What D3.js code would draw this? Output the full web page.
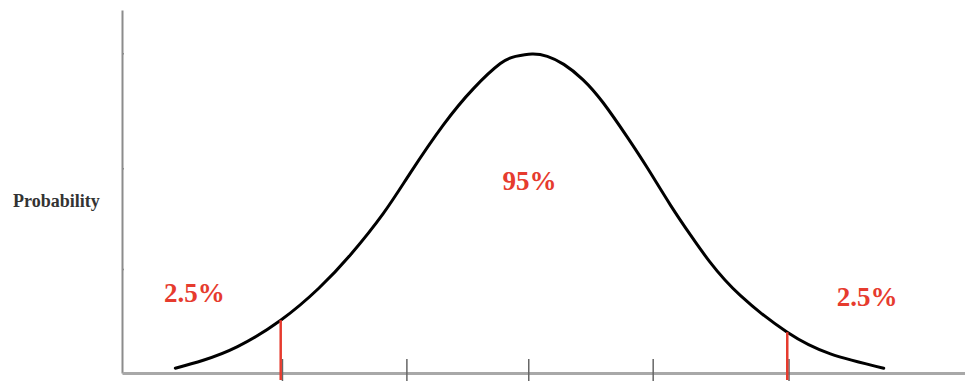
<!DOCTYPE html>
<html lang="en">
<head>
    <meta charset="UTF-8">
    <title>Normal distribution - 95% interval</title>
    <script src="https://d3js.org/d3.v7.min.js"></script>
    <style>
        body { margin: 0; background: #fff; }
    </style>
</head>
<body>
    <svg width="965" height="383"></svg>
    <script type="text/javascript">
        // Curve: z (std units) and density
        var curveZ = [-2.78, -2.56, -2.29, -1.95, -1.65, -1.40, -1.14, -0.93, -0.67, -0.43, -0.22, -0.10, 0.03, 0.15,
                      0.28, 0.43, 0.59, 0.78, 0.94, 1.12, 1.28, 1.43, 1.67, 2.04, 2.38, 2.80];
        var curveDensity = [0.006, 0.016, 0.033, 0.066, 0.106, 0.148, 0.200, 0.250, 0.310, 0.356, 0.387, 0.396, 0.399, 0.396,
                            0.386, 0.367, 0.338, 0.295, 0.256, 0.210, 0.172, 0.139, 0.097, 0.051, 0.024, 0.006];

        // Critical values (red markers) and their curve heights
        var criticalZ = [-1.95, 2.04];
        var criticalDensity = [0.066, 0.051];

        // Tick positions
        var xTicks = [-1.94, -0.96, 0, 0.98, 2.05];
        var yTicks = [0.130, 0.256, 0.400];

        // Area labels
        var labelText = ["2.5%", "95%", "2.5%"];
        var labelZ = [-2.63, 0.01, 2.67];
        var labelDensity = [0.089, 0.229, 0.084];

        var red = "#e63b2e";

        var svg = d3.select("svg");

        var x = d3.scaleLinear().domain([-3.2, 3.44]).range([122, 965]);
        var y = d3.scaleLinear().domain([0, 0.454]).range([373, 10]);

        var curveData = curveZ.map(function(z, i) { return {z: z, d: curveDensity[i]}; });

        // y axis
        var yAxis = svg.append("g")
            .attr("transform", "translate(" + x(-3.2) + ",0)")
            .call(d3.axisLeft(y).tickValues(yTicks).tickSizeInner(3).tickSizeOuter(0).tickFormat(""));
        yAxis.select(".domain").attr("stroke", "#8c8c8c").attr("stroke-width", 2);
        yAxis.selectAll(".tick line").attr("stroke", "#8c8c8c").attr("stroke-width", 1.5).attr("x2", 2);

        // x axis
        var xAxis = svg.append("g")
            .attr("transform", "translate(0," + y(0) + ")")
            .call(d3.axisBottom(x).tickValues(xTicks).tickSizeInner(8).tickSizeOuter(0).tickFormat(""));
        xAxis.select(".domain").attr("stroke", "#a8a8a8").attr("stroke-width", 3);
        xAxis.selectAll(".tick line").attr("stroke", "#666").attr("stroke-width", 1.5).attr("y1", -14);

        // Bell curve
        var line = d3.line()
            .x(function(d) { return x(d.z); })
            .y(function(d) { return y(d.d); })
            .curve(d3.curveNatural);

        svg.append("path")
            .datum(curveData)
            .attr("fill", "none")
            .attr("stroke", "#000")
            .attr("stroke-width", 3)
            .attr("stroke-linecap", "round")
            .attr("d", line);

        // Red critical value markers
        svg.selectAll(".crit")
            .data(criticalZ)
            .enter().append("line")
            .attr("class", "crit")
            .attr("x1", function(d) { return x(d); })
            .attr("x2", function(d) { return x(d); })
            .attr("y1", function(d, i) { return y(criticalDensity[i]); })
            .attr("y2", y(0) + 7)
            .attr("stroke", red)
            .attr("stroke-width", 2.5);

        // Percent labels
        svg.selectAll(".lbl")
            .data(labelText)
            .enter().append("text")
            .attr("class", "lbl")
            .attr("x", function(d, i) { return x(labelZ[i]); })
            .attr("y", function(d, i) { return y(labelDensity[i]); })
            .attr("text-anchor", "middle")
            .attr("font-family", "'Liberation Serif', 'DejaVu Serif', serif")
            .attr("font-weight", "bold")
            .attr("font-size", "27px")
            .attr("fill", red)
            .text(function(d) { return d; });

        // y axis label
        svg.append("text")
            .attr("x", 13)
            .attr("y", 207)
            .attr("font-family", "'Liberation Serif', 'DejaVu Serif', serif")
            .attr("font-weight", "bold")
            .attr("font-size", "18px")
            .attr("fill", "#333")
            .text("Probability");
    </script>
</body>
</html>
